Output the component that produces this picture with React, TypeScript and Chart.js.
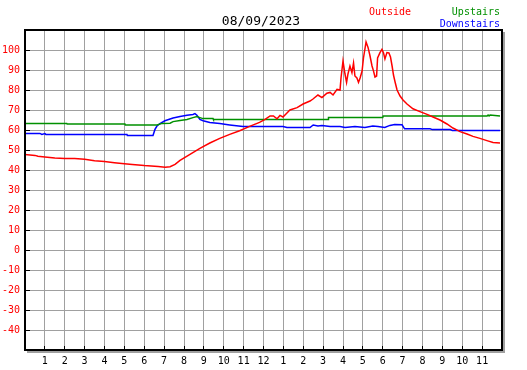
import React, { useEffect, useRef } from "react";
import { Chart, registerables } from "chart.js";

Chart.register(...registerables);

const chartTitle = "08/09/2023";
const hourLabels = ["", "1", "2", "3", "4", "5", "6", "7", "8", "9", "10", "11", "12", "1", "2", "3", "4", "5", "6", "7", "8", "9", "10", "11", ""];
const yLabelValues = [-40, -30, -20, -10, 0, 10, 20, 30, 40, 50, 60, 70, 80, 90, 100];

const outsideTimes = [0, 0.25, 0.5, 0.65, 1.0, 1.5, 2.0, 2.5, 3.0, 3.5, 4.0, 4.5, 5.0, 5.4, 6.0, 6.7, 7.05, 7.3, 7.55, 7.8, 8.3, 8.8, 9.3, 9.8, 10.3, 10.8, 11.3, 11.8, 12.08, 12.33, 12.5, 12.68, 12.83, 12.98, 13.18, 13.33, 13.69, 13.99, 14.34, 14.49, 14.74, 14.94, 15.19, 15.35, 15.5, 15.7, 15.85, 15.9, 16.0, 16.1, 16.18, 16.25, 16.35, 16.45, 16.53, 16.6, 16.7, 16.78, 16.86, 16.96, 17.03, 17.16, 17.26, 17.36, 17.46, 17.53, 17.61, 17.69, 17.74, 17.86, 17.96, 18.04, 18.11, 18.21, 18.31, 18.39, 18.47, 18.54, 18.62, 18.72, 18.87, 19.02, 19.22, 19.52, 19.87, 20.23, 20.53, 20.88, 21.23, 21.53, 21.89, 22.24, 22.54, 22.89, 23.24, 23.55, 23.9];
const outsideTemps = [47.7, 47.5, 47.3, 46.9, 46.5, 46.0, 45.7, 45.7, 45.4, 44.6, 44.2, 43.6, 43.1, 42.7, 42.2, 41.8, 41.4, 41.6, 42.8, 44.8, 47.8, 50.8, 53.5, 55.8, 57.8, 59.6, 61.8, 63.8, 65.3, 67, 67, 65.6, 67.3, 66.5, 68.5, 70, 71.2, 73, 74.5, 75.5, 77.5, 76.2, 78.4, 78.8, 77.5, 80.3, 80, 86, 94.5, 88, 83.8, 88, 92, 88.7, 93.5, 87, 86, 83.8, 86, 89.5, 96, 104, 101.3, 97, 92, 89.7, 86.5, 87, 96, 98.7, 100.3, 98.5, 95.5, 98.7, 98.5, 96.5, 92, 87.5, 84, 80, 77, 75, 73, 70.6, 69.2, 67.8, 66.5, 65, 63, 61, 59.2, 58, 56.8, 55.8, 54.7, 53.8, 53.5];

const upstairsTimes = [0, 2.1, 2.12, 5.03, 5.05, 6.64, 6.9, 7.3, 7.45, 7.8, 8.15, 8.45, 8.65, 8.8, 8.96, 9.46, 9.48, 15.25, 15.27, 18.0, 18.02, 23.25, 23.3, 23.35, 23.4, 23.9];
const upstairsTemps = [63.3, 63.3, 63.0, 63.0, 62.5, 62.5, 63.3, 63.4, 64.2, 64.8, 65.3, 66.2, 66.7, 66.2, 65.7, 65.7, 65.3, 65.3, 66.2, 66.2, 67, 67, 67.5, 67, 67.5, 67];

const downstairsTimes = [0, 0.75, 0.85, 1.0, 1.05, 5.13, 5.15, 6.44, 6.54, 6.64, 6.79, 7.04, 7.45, 7.8, 8.15, 8.45, 8.55, 8.65, 8.8, 8.96, 9.3, 9.8, 10.3, 10.97, 12.98, 13.18, 14.34, 14.5, 14.74, 14.94, 15.35, 15.85, 16.1, 16.6, 17.1, 17.5, 17.76, 18.1, 18.36, 18.6, 18.97, 19.1, 20.38, 20.5, 21.4, 21.5, 23.9];
const downstairsTemps = [58.3, 58.3, 57.8, 58.2, 57.8, 57.8, 57.3, 57.3, 60.3, 62, 63.2, 64.6, 66, 66.8, 67.4, 67.8, 68.2, 67.4, 65.3, 64.6, 63.8, 63.2, 62.5, 61.7, 61.7, 61.2, 61.2, 62.5, 62, 62.3, 61.8, 61.8, 61.3, 61.8, 61.3, 62, 61.7, 61.3, 62.3, 62.8, 62.6, 60.6, 60.6, 60.2, 60.2, 59.8, 59.8];

const seriesNames = ["Outside", "Upstairs", "Downstairs"];
const seriesColors = ["#ff0000", "#009000", "#0000ff"];

const toPoints = (xs: number[], ys: number[]) => xs.map((x, i) => ({ x, y: ys[i] }));

const FONT = "'DejaVu Sans Mono', monospace";

const overlayPlugin = {
  id: "overlay",
  afterDraw(chart: any) {
    const { ctx, chartArea: a, scales } = chart;
    const xs = scales.x;
    const ys = scales.y;
    ctx.save();
    ctx.strokeStyle = "#000";
    ctx.lineWidth = 1;
    ctx.beginPath();
    for (const v of yLabelValues) {
      const py = Math.round(ys.getPixelForValue(v) - 0.5) + 0.5;
      ctx.moveTo(a.left, py);
      ctx.lineTo(a.left + 5, py);
    }
    for (let h = 1; h < 24; h++) {
      const px = Math.round(xs.getPixelForValue(h) - 0.5) + 0.5;
      ctx.moveTo(px, a.bottom);
      ctx.lineTo(px, a.bottom - 4);
    }
    ctx.stroke();
    ctx.fillStyle = "#a0a0a0";
    ctx.fillRect(a.right + 1, a.top + 2, 2, a.bottom - a.top + 1);
    ctx.fillRect(a.left + 2, a.bottom + 1, a.right - a.left + 1, 2);
    ctx.strokeStyle = "#000";
    ctx.lineWidth = 2;
    ctx.strokeRect(a.left, a.top, a.right - a.left, a.bottom - a.top);
    ctx.fillStyle = "#000";
    ctx.font = `13px ${FONT}`;
    ctx.textAlign = "center";
    ctx.textBaseline = "alphabetic";
    ctx.fillText(chartTitle, 261, 25);
    ctx.font = `10px ${FONT}`;
    ctx.textAlign = "left";
    ctx.fillStyle = seriesColors[0];
    ctx.fillText(seriesNames[0], 369, 15);
    ctx.textAlign = "right";
    ctx.fillStyle = seriesColors[1];
    ctx.fillText(seriesNames[1], 500, 15);
    ctx.fillStyle = seriesColors[2];
    ctx.fillText(seriesNames[2], 500, 27);
    ctx.restore();
  },
};

export default function App() {
  const canvasRef = useRef<HTMLCanvasElement | null>(null);

  useEffect(() => {
    if (!canvasRef.current) return;
    Chart.defaults.font.family = FONT;
    const chart = new Chart(canvasRef.current, {
      type: "line",
      data: {
        datasets: [
          { label: seriesNames[0], data: toPoints(outsideTimes, outsideTemps), borderColor: seriesColors[0] },
          { label: seriesNames[1], data: toPoints(upstairsTimes, upstairsTemps), borderColor: seriesColors[1] },
          { label: seriesNames[2], data: toPoints(downstairsTimes, downstairsTemps), borderColor: seriesColors[2] },
        ].map((d) => ({ ...d, borderWidth: 1.5, pointRadius: 0, tension: 0, fill: false })),
      },
      options: {
        animation: false,
        responsive: false,
        devicePixelRatio: 1,
        layout: { padding: { top: 30, right: 25, left: 0, bottom: 0 } },
        plugins: { legend: { display: false }, title: { display: false }, tooltip: { enabled: false } },
        scales: {
          x: {
            type: "linear",
            min: 0,
            max: 24,
            afterFit: (s: any) => { s.height = 20; },
            border: { display: false },
            grid: { color: "#a0a0a0", lineWidth: 1, drawTicks: false },
            ticks: {
              stepSize: 1,
              autoSkip: false,
              maxRotation: 0,
              padding: 5,
              color: "#000",
              font: { size: 10, family: FONT },
              callback: (v: any) => hourLabels[Math.round(Number(v))] ?? "",
            },
          },
          y: {
            type: "linear",
            min: -50,
            max: 110,
            afterFit: (s: any) => { s.width = 25; },
            border: { display: false },
            grid: { color: "#a0a0a0", lineWidth: 1, drawTicks: false },
            ticks: {
              stepSize: 10,
              padding: 5,
              color: "#ff0000",
              font: { size: 10, family: FONT },
              callback: (v: any) => (yLabelValues.includes(Number(v)) ? String(v) : ""),
            },
          },
        },
      },
      plugins: [overlayPlugin],
    });
    return () => chart.destroy();
  }, []);

  return (
    <div style={{ position: "absolute", left: 0, top: 0, width: 527, height: 370, background: "#fff" }}>
      <canvas ref={canvasRef} width={527} height={370} style={{ width: 527, height: 370, display: "block" }} />
    </div>
  );
}
